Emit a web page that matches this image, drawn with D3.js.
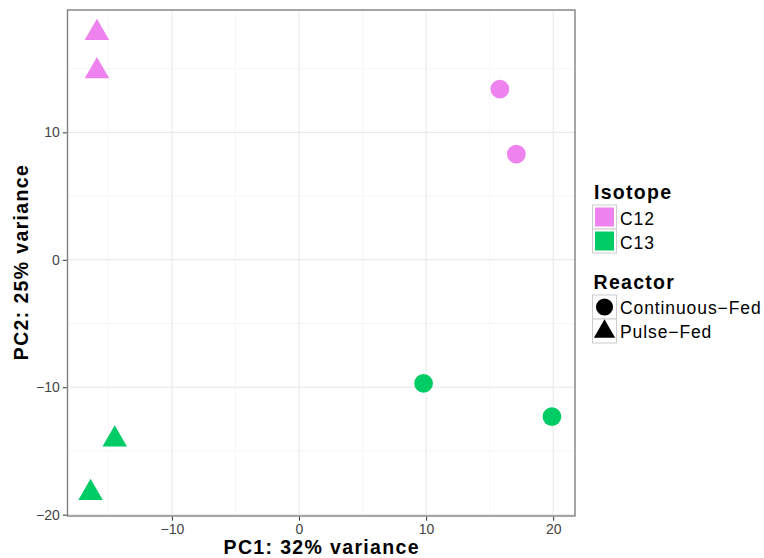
<!DOCTYPE html>
<html>
<head>
<meta charset="utf-8">
<script src="https://cdn.jsdelivr.net/npm/d3@7"></script>
<style>
  body { margin: 0; background: #fff; }
  svg { display: block; font-family: "Liberation Sans", Arial, Helvetica, sans-serif; }
</style>
</head>
<body>
<svg id="chart" width="764" height="558"></svg>
<script>
// PCA scores per sample
const pc1 = [-15.9, -15.9, 15.8, 17.1, 9.8, 19.9, -14.5, -16.4];
const pc2 = [17.8, 14.8, 13.4, 8.3, -9.7, -12.3, -14.1, -18.3];
const isotope = ["C12", "C12", "C12", "C12", "C13", "C13", "C13", "C13"];
const reactor = ["Pulse-Fed", "Pulse-Fed", "Continuous-Fed", "Continuous-Fed",
                 "Continuous-Fed", "Continuous-Fed", "Pulse-Fed", "Pulse-Fed"];

const isotopeLevels = ["C12", "C13"];
const isotopeColors = ["#EE82EE", "#00CC66"];
const reactorLevels = ["Continuous-Fed", "Pulse-Fed"];
const reactorLabels = ["Continuous\u2212Fed", "Pulse\u2212Fed"];

const xTicks = [-10, 0, 10, 20];
const yTicks = [-20, -10, 0, 10];
const xMinor = [-15, -5, 5, 15];
const yMinor = [-15, -5, 5, 15];

const xTitle = "PC1: 32% variance";
const yTitle = "PC2: 25% variance";

const svg = d3.select("#chart");
const panel = { left: 67.5, right: 575, top: 10, bottom: 516 };

// ggplot-style 5% expansion around data range
const xr = d3.extent(pc1), yr = d3.extent(pc2);
const xe = (xr[1] - xr[0]) * 0.05, ye = (yr[1] - yr[0]) * 0.05;
const x = d3.scaleLinear().domain([xr[0] - xe, xr[1] + xe]).range([panel.left, panel.right]);
const y = d3.scaleLinear().domain([yr[0] - ye, yr[1] + ye]).range([panel.bottom, panel.top]);

const color = d3.scaleOrdinal().domain(isotopeLevels).range(isotopeColors);
const shape = d3.scaleOrdinal().domain(reactorLevels).range([d3.symbolCircle, d3.symbolTriangle]);
const shapeSize = d3.scaleOrdinal().domain(reactorLevels).range([275, 260]);

const fmt = d => d < 0 ? "\u2212" + Math.abs(d) : String(d);

// panel background
svg.append("rect")
  .attr("x", panel.left).attr("y", panel.top)
  .attr("width", panel.right - panel.left).attr("height", panel.bottom - panel.top)
  .attr("fill", "#fff");

// grid lines
const grid = svg.append("g");
grid.selectAll(".vminor").data(xMinor).join("line")
  .attr("x1", d => x(d)).attr("x2", d => x(d))
  .attr("y1", panel.top).attr("y2", panel.bottom)
  .attr("stroke", "#f5f5f5").attr("stroke-width", 0.8);
grid.selectAll(".hminor").data(yMinor).join("line")
  .attr("y1", d => y(d)).attr("y2", d => y(d))
  .attr("x1", panel.left).attr("x2", panel.right)
  .attr("stroke", "#f5f5f5").attr("stroke-width", 0.8);
grid.selectAll(".vmajor").data(xTicks).join("line")
  .attr("x1", d => x(d)).attr("x2", d => x(d))
  .attr("y1", panel.top).attr("y2", panel.bottom)
  .attr("stroke", "#e6e6e6").attr("stroke-width", 1);
grid.selectAll(".hmajor").data(yTicks).join("line")
  .attr("y1", d => y(d)).attr("y2", d => y(d))
  .attr("x1", panel.left).attr("x2", panel.right)
  .attr("stroke", "#e6e6e6").attr("stroke-width", 1);

// points
svg.append("g").selectAll("path").data(pc1.map((v, i) => i)).join("path")
  .attr("transform", i => `translate(${x(pc1[i])},${y(pc2[i])})`)
  .attr("d", i => d3.symbol(shape(reactor[i]), shapeSize(reactor[i]))())
  .attr("fill", i => color(isotope[i]));

// panel border
svg.append("rect")
  .attr("x", panel.left).attr("y", panel.top)
  .attr("width", panel.right - panel.left).attr("height", panel.bottom - panel.top)
  .attr("fill", "none").attr("stroke", "#808080").attr("stroke-width", 1.4);

// axes
const xAxis = svg.append("g").attr("transform", `translate(0,${panel.bottom + 0.7})`)
  .call(d3.axisBottom(x).tickValues(xTicks).tickFormat(fmt).tickSize(4).tickPadding(3));
const yAxis = svg.append("g").attr("transform", `translate(${panel.left - 0.7},0)`)
  .call(d3.axisLeft(y).tickValues(yTicks).tickFormat(fmt).tickSize(4).tickPadding(3));
[xAxis, yAxis].forEach(a => {
  a.select(".domain").remove();
  a.selectAll(".tick line").attr("stroke", "#333").attr("stroke-width", 1);
  a.selectAll(".tick text").attr("fill", "#444").style("font-size", "14px")
    .style("font-family", "'Liberation Sans', Arial, sans-serif");
});

// axis titles
svg.append("text")
  .attr("x", (panel.left + panel.right) / 2 + 0.5).attr("y", 554)
  .attr("text-anchor", "middle").attr("font-weight", "bold").attr("font-size", 19.5)
  .attr("letter-spacing", 1.35).attr("fill", "#000").text(xTitle);
svg.append("text")
  .attr("transform", `translate(28,${(panel.top + panel.bottom) / 2 - 1}) rotate(-90)`)
  .attr("text-anchor", "middle").attr("font-weight", "bold").attr("font-size", 19.5)
  .attr("letter-spacing", 1.35).attr("fill", "#000").text(yTitle);

// legends
const keyW = 24, keyH = 24, lx = 592.5;

const leg1 = svg.append("g").attr("transform", `translate(${lx},0)`);
leg1.append("text").attr("x", 1.5).attr("y", 198.5)
  .attr("font-weight", "bold").attr("font-size", 19.5).attr("letter-spacing", 1.3)
  .attr("fill", "#000").text("Isotope");
isotopeLevels.forEach((lev, i) => {
  const ty = 205 + i * keyH;
  leg1.append("rect").attr("x", 0).attr("y", ty).attr("width", keyW).attr("height", keyH)
    .attr("fill", "#fff").attr("stroke", "#cccccc").attr("stroke-width", 1);
  leg1.append("rect").attr("x", 2.5).attr("y", ty + 2.5).attr("width", keyW - 5).attr("height", keyH - 5)
    .attr("fill", color(lev));
  leg1.append("text").attr("x", keyW + 3.5).attr("y", ty + 20)
    .attr("font-size", 17.5).attr("letter-spacing", 0.9).attr("fill", "#000").text(lev);
});

const leg2 = svg.append("g").attr("transform", `translate(${lx},0)`);
leg2.append("text").attr("x", 1).attr("y", 288.5)
  .attr("font-weight", "bold").attr("font-size", 19.5).attr("letter-spacing", 1.3)
  .attr("fill", "#000").text("Reactor");
reactorLevels.forEach((lev, i) => {
  const ty = 295 + i * keyH;
  leg2.append("rect").attr("x", 0).attr("y", ty).attr("width", keyW).attr("height", keyH)
    .attr("fill", "#fff").attr("stroke", "#cccccc").attr("stroke-width", 1);
  leg2.append("path")
    .attr("transform", `translate(${keyW / 2},${ty + keyH / 2 + (lev === "Pulse-Fed" ? 0.5 : 0)})`)
    .attr("d", d3.symbol(shape(lev), lev === "Pulse-Fed" ? 195 : 230)())
    .attr("fill", "#000");
  leg2.append("text").attr("x", keyW + 3.5).attr("y", ty + 18.5)
    .attr("font-size", 17.5).attr("letter-spacing", 0.9).attr("fill", "#000").text(reactorLabels[i]);
});
</script>
</body>
</html>
